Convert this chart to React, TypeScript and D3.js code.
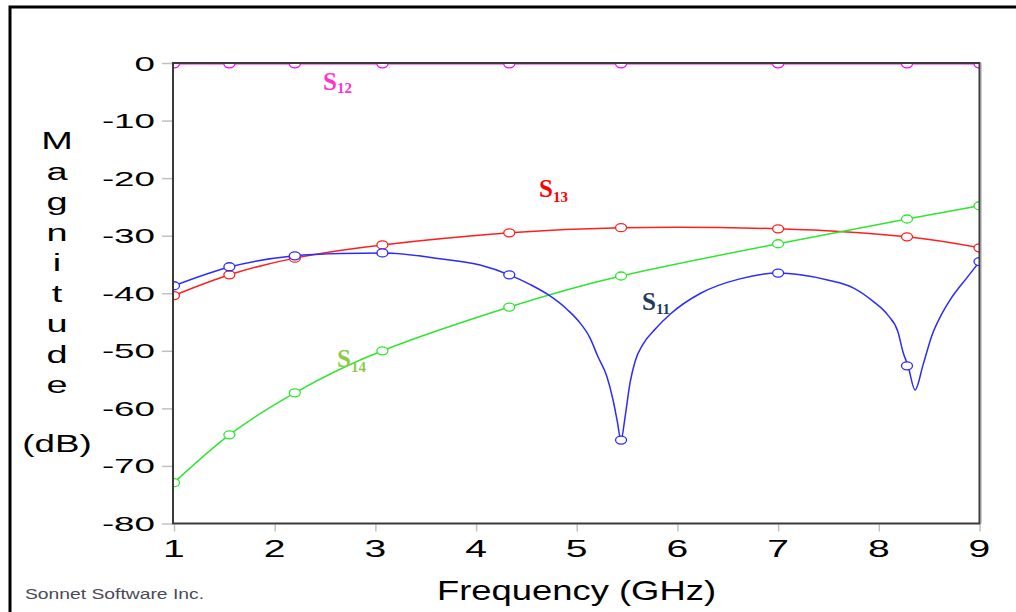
import { useEffect, useRef } from "react";
import * as d3 from "d3";

// sample points with markers (GHz)
const markFreq = [1.0, 1.55, 2.2, 3.07, 4.33, 5.44, 7.0, 8.28, 9.0];
const s12Db = [-0.15, -0.15, -0.15, -0.15, -0.15, -0.15, -0.15, -0.15, -0.15];
const s13Db = [-40.4, -36.8, -33.9, -31.6, -29.5, -28.6, -28.8, -30.2, -32.1];
const s14Db = [-72.9, -64.6, -57.3, -50.0, -42.4, -37.0, -31.4, -27.1, -24.8];
const s11MarkDb = [-38.7, -35.4, -33.5, -33.0, -36.8, -65.5, -36.5, -52.6, -34.5];

// S11 adaptive sweep
const s11Freq = [
  1.0, 1.56, 2.2, 2.65, 3.09, 3.64, 4.04, 4.33, 4.54, 4.72, 4.91, 5.03, 5.13,
  5.21, 5.3, 5.36, 5.4, 5.44, 5.48, 5.53, 5.58, 5.66, 5.78, 5.93, 6.23, 6.62,
  7.0, 7.22, 7.49, 7.75, 7.95, 8.09, 8.19, 8.24, 8.29, 8.36, 8.44, 8.53, 8.61,
  8.71, 8.88, 9.0,
];
const s11Db = [
  -38.7, -35.4, -33.5, -33.1, -33.0, -34.0, -35.1, -36.8, -38.5, -40.3, -42.9,
  -45.1, -47.7, -51.0, -54.5, -58.5, -62.0, -65.5, -61.5, -55.5, -51.8, -48.8,
  -46.2, -43.6, -40.0, -37.5, -36.5, -36.8, -37.7, -39.1, -41.5, -43.8, -46.7,
  -50.2, -52.6, -56.8, -52.4, -47.2, -44.1, -41.1, -37.2, -34.5,
];

const xTicks = [1, 2, 3, 4, 5, 6, 7, 8, 9];
const yTicks = [0, -10, -20, -30, -40, -50, -60, -70, -80];

const W = 1016;
const H = 612;
const left = 173;
const right = 979.5;
const top = 63;
const bottom = 523.5;

// approximate advance of a tick label in Liberation Sans, in em
const labelEm = (s: string) =>
  s.split("").reduce((a, c) => a + (c === "-" ? 0.333 : 0.556), 0);

export default function App() {
  const svgRef = useRef<SVGSVGElement>(null);

  useEffect(() => {
    const svg = d3.select(svgRef.current);
    svg.selectAll("*").remove();

    const x = d3.scaleLinear().domain([1, 9]).range([174, 979.5]);
    const y = d3.scaleLinear().domain([-80, 0]).range([bottom, top]);

    svg.append("rect").attr("width", W).attr("height", H).attr("fill", "#fff");
    // outer frame
    svg
      .append("rect")
      .attr("x", 10)
      .attr("y", 7)
      .attr("width", W + 20)
      .attr("height", H + 20)
      .attr("fill", "none")
      .attr("stroke", "#000")
      .attr("stroke-width", 3);

    svg
      .append("defs")
      .append("clipPath")
      .attr("id", "plot")
      .append("rect")
      .attr("x", left)
      .attr("y", top)
      .attr("width", right - left)
      .attr("height", bottom - top);

    // tick marks (grey, outside the frame)
    const yAxis = svg
      .append("g")
      .attr("transform", `translate(${left - 1},0)`)
      .call(d3.axisLeft(y).tickValues(yTicks).tickSize(10).tickFormat(() => ""));
    yAxis.select(".domain").remove();
    yAxis.selectAll("line").attr("stroke", "#c0c0c0").attr("stroke-width", 1.5);

    const xAxis = svg
      .append("g")
      .attr("transform", `translate(0,${bottom + 1})`)
      .call(d3.axisBottom(x).tickValues(xTicks).tickSize(7).tickFormat(() => ""));
    xAxis.select(".domain").remove();
    xAxis.selectAll("line").attr("stroke", "#c0c0c0").attr("stroke-width", 1.5);

    // y tick labels, stretched wide like the original
    const yFont = 21;
    const yStretch = 1.75;
    svg
      .selectAll(null)
      .data(yTicks)
      .join("text")
      .attr("x", (d) => 155 - labelEm(String(d)) * yFont * yStretch)
      .attr("y", (d) => y(d) + 7.5)
      .attr("textLength", (d) => labelEm(String(d)) * yFont * yStretch)
      .attr("lengthAdjust", "spacingAndGlyphs")
      .attr("font-family", "Liberation Sans, Arial, sans-serif")
      .attr("font-size", yFont)
      .attr("fill", "#000")
      .text((d) => String(d));

    svg
      .selectAll(null)
      .data(xTicks)
      .join("text")
      .attr("transform", (d) => `translate(${x(d)},557) scale(1.7,1)`)
      .attr("text-anchor", "middle")
      .attr("font-family", "Liberation Sans, Arial, sans-serif")
      .attr("font-size", 23)
      .attr("fill", "#000")
      .text((d) => String(d));

    const plot = svg.append("g").attr("clip-path", "url(#plot)");

    const series = [
      { f: markFreq, v: s13Db, mv: s13Db, color: "#ff1e1e", curve: d3.curveNatural },
      { f: markFreq, v: s14Db, mv: s14Db, color: "#2ee62e", curve: d3.curveNatural },
      { f: s11Freq, v: s11Db, mv: s11MarkDb, color: "#2b2bff", curve: d3.curveMonotoneX },
      { f: markFreq, v: s12Db, mv: s12Db, color: "#ff00ff", curve: d3.curveLinear },
    ];

    series.forEach((s) => {
      const line = d3
        .line<number>()
        .x((_, i) => x(s.f[i]))
        .y((d) => y(d))
        .curve(s.curve);
      plot
        .append("path")
        .attr("d", line(s.v))
        .attr("fill", "none")
        .attr("stroke", s.color)
        .attr("stroke-width", 1.5);
      plot
        .selectAll(null)
        .data(s.mv)
        .join("ellipse")
        .attr("cx", (_, i) => x(markFreq[i]))
        .attr("cy", (d) => y(d))
        .attr("rx", 5.5)
        .attr("ry", 4)
        .attr("fill", "#fff")
        .attr("stroke", s.color)
        .attr("stroke-width", 1.3);
    });

    // plot frame
    svg
      .append("rect")
      .attr("x", left)
      .attr("y", top)
      .attr("width", right - left)
      .attr("height", bottom - top)
      .attr("fill", "none")
      .attr("stroke", "#3a3a3a")
      .attr("stroke-width", 2);
    svg
      .append("line")
      .attr("x1", right + 1.5)
      .attr("x2", right + 1.5)
      .attr("y1", top)
      .attr("y2", bottom)
      .attr("stroke", "#999")
      .attr("stroke-width", 1);

    // series labels
    const labels = [
      { main: "S", sub: "12", x: 323, y: 90, dy: 3, color: "#ff33cc" },
      { main: "S", sub: "13", x: 539, y: 197, dy: 5, color: "#ff0000" },
      { main: "S", sub: "11", x: 642, y: 310, dy: 4, color: "#1f3a60" },
      { main: "S", sub: "14", x: 337, y: 367, dy: 5, color: "#8ccb4a" },
    ];
    labels.forEach((l) => {
      const t = svg
        .append("text")
        .attr("x", l.x)
        .attr("y", l.y)
        .attr("font-family", "Liberation Serif, Times New Roman, serif")
        .attr("font-weight", "bold")
        .attr("font-size", 25)
        .attr("fill", l.color);
      t.append("tspan").text(l.main);
      t.append("tspan").attr("dy", l.dy).attr("font-size", 15).text(l.sub);
    });

    // y axis title, stacked letters
    const ttl = "Magnitude".split("");
    svg
      .selectAll(null)
      .data(ttl)
      .join("text")
      .attr("transform", (_, i) => `translate(57,${149 + i * 30.5}) scale(1.65,1)`)
      .attr("text-anchor", "middle")
      .attr("font-family", "Liberation Sans, Arial, sans-serif")
      .attr("font-size", 23)
      .attr("fill", "#000")
      .text((d) => d);
    svg
      .append("text")
      .attr("transform", "translate(57,452) scale(1.6,1)")
      .attr("text-anchor", "middle")
      .attr("font-family", "Liberation Sans, Arial, sans-serif")
      .attr("font-size", 23)
      .attr("fill", "#000")
      .text("(dB)");

    svg
      .append("text")
      .attr("x", 437)
      .attr("y", 600)
      .attr("textLength", 279)
      .attr("lengthAdjust", "spacingAndGlyphs")
      .attr("font-family", "Liberation Sans, Arial, sans-serif")
      .attr("font-size", 28)
      .attr("fill", "#000")
      .text("Frequency (GHz)");

    svg
      .append("text")
      .attr("x", 25)
      .attr("y", 599)
      .attr("textLength", 179)
      .attr("lengthAdjust", "spacingAndGlyphs")
      .attr("font-family", "Liberation Sans, Arial, sans-serif")
      .attr("font-size", 14)
      .attr("fill", "#4a4a58")
      .text("Sonnet Software Inc.");
  }, []);

  return (
    <div style={{ position: "absolute", left: 0, top: 0 }}>
      <svg ref={svgRef} width={W} height={H} style={{ display: "block" }} />
    </div>
  );
}
